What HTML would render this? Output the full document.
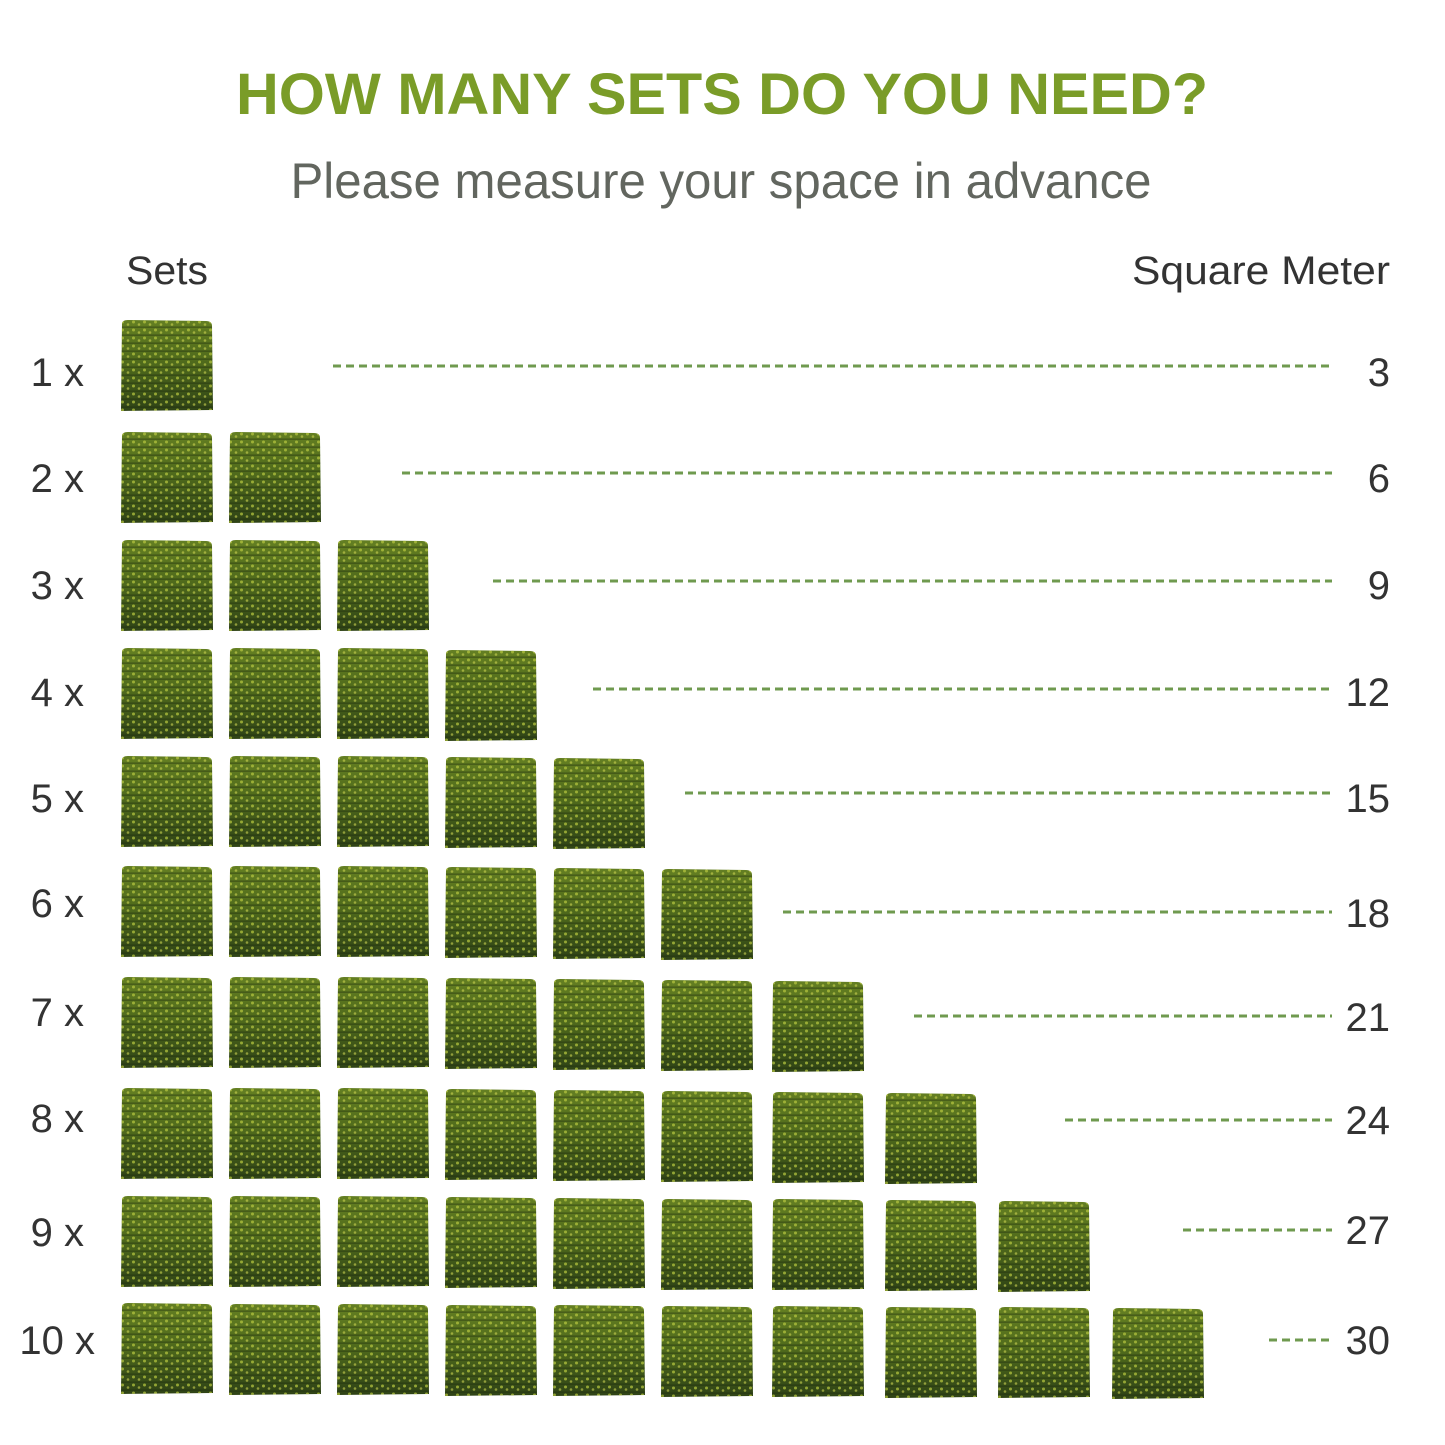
<!DOCTYPE html>
<html><head><meta charset="utf-8"><style>html,body{margin:0;padding:0;background:#fff}svg{display:block}</style></head>
<body>
<svg width="1445" height="1445" viewBox="0 0 1445 1445" xmlns="http://www.w3.org/2000/svg">
<defs>
<linearGradient id="g" x1="0" y1="0" x2="0" y2="1">
<stop offset="0" stop-color="#647f22"/><stop offset="0.45" stop-color="#506b1c"/><stop offset="1" stop-color="#2f4316"/>
</linearGradient>
<pattern id="p" width="11" height="8" patternUnits="userSpaceOnUse">
<circle cx="2.5" cy="2" r="1.5" fill="#b3c23e" opacity="0.75"/>
<circle cx="8" cy="4.5" r="1.3" fill="#cdd352" opacity="0.6"/>
<rect x="0" y="6.5" width="11" height="1.3" fill="#1c2a0e" opacity="0.45"/>
</pattern>
<g id="t">
<path d="M2 4 Q2 0 8 0 L86 1 Q92 1 92 6 L93 90 L1 91 Z" fill="url(#g)"/>
<path d="M2 4 Q2 0 8 0 L86 1 Q92 1 92 6 L93 90 L1 91 Z" fill="url(#p)"/>
</g>
</defs>
<text x="722" y="114" text-anchor="middle" font-family="Liberation Sans, sans-serif" font-weight="bold" font-size="58" fill="#7a9c28" textLength="972" lengthAdjust="spacingAndGlyphs">HOW MANY SETS DO YOU NEED?</text>
<text x="721" y="198" text-anchor="middle" font-family="Liberation Sans, sans-serif" font-size="50" fill="#62665f" textLength="861" lengthAdjust="spacingAndGlyphs">Please measure your space in advance</text>
<g font-family="Liberation Sans, sans-serif" font-size="40" fill="#333">
<text x="126" y="284" textLength="82" lengthAdjust="spacingAndGlyphs">Sets</text>
<text x="1390" y="284" text-anchor="end" textLength="258" lengthAdjust="spacingAndGlyphs">Square Meter</text>
</g>
<g font-family="Liberation Sans, sans-serif" font-size="40" fill="#333">
<text x="84" y="386" text-anchor="end">1 x</text>
<text x="84" y="492" text-anchor="end">2 x</text>
<text x="84" y="599" text-anchor="end">3 x</text>
<text x="84" y="706" text-anchor="end">4 x</text>
<text x="84" y="812" text-anchor="end">5 x</text>
<text x="84" y="917" text-anchor="end">6 x</text>
<text x="84" y="1026" text-anchor="end">7 x</text>
<text x="84" y="1132" text-anchor="end">8 x</text>
<text x="84" y="1246" text-anchor="end">9 x</text>
<text x="95" y="1354" text-anchor="end">10 x</text>
<g text-anchor="end">
<text x="1390" y="386">3</text>
<text x="1390" y="492">6</text>
<text x="1390" y="599">9</text>
<text x="1390" y="706">12</text>
<text x="1390" y="812">15</text>
<text x="1390" y="927">18</text>
<text x="1390" y="1031">21</text>
<text x="1390" y="1134">24</text>
<text x="1390" y="1244">27</text>
<text x="1390" y="1354">30</text>
</g>
</g>
<g stroke="#6f9a4f" stroke-width="3" stroke-dasharray="8 5">
<line x1="333" y1="366" x2="1332" y2="366"/>
<line x1="402" y1="473" x2="1332" y2="473"/>
<line x1="493" y1="581" x2="1332" y2="581"/>
<line x1="593" y1="689" x2="1332" y2="689"/>
<line x1="685" y1="793" x2="1332" y2="793"/>
<line x1="783" y1="912" x2="1332" y2="912"/>
<line x1="914" y1="1016" x2="1332" y2="1016"/>
<line x1="1065" y1="1120" x2="1332" y2="1120"/>
<line x1="1183" y1="1230" x2="1332" y2="1230"/>
<line x1="1269" y1="1340" x2="1332" y2="1340"/>
</g>
<g>
<use href="#t" x="120" y="320"/>
<use href="#t" x="120" y="432"/><use href="#t" x="228" y="432"/>
<use href="#t" x="120" y="540"/><use href="#t" x="228" y="540"/><use href="#t" x="336" y="540"/>
<use href="#t" x="120" y="648"/><use href="#t" x="228" y="648"/><use href="#t" x="336" y="648"/><use href="#t" x="444" y="650"/>
<use href="#t" x="120" y="756"/><use href="#t" x="228" y="756"/><use href="#t" x="336" y="756"/><use href="#t" x="444" y="757"/><use href="#t" x="552" y="758"/>
<use href="#t" x="120" y="866"/><use href="#t" x="228" y="866"/><use href="#t" x="336" y="866"/><use href="#t" x="444" y="867"/><use href="#t" x="552" y="868"/><use href="#t" x="660" y="869"/>
<use href="#t" x="120" y="977"/><use href="#t" x="228" y="977"/><use href="#t" x="336" y="977"/><use href="#t" x="444" y="978"/><use href="#t" x="552" y="979"/><use href="#t" x="660" y="980"/><use href="#t" x="771" y="981"/>
<use href="#t" x="120" y="1088"/><use href="#t" x="228" y="1088"/><use href="#t" x="336" y="1088"/><use href="#t" x="444" y="1089"/><use href="#t" x="552" y="1090"/><use href="#t" x="660" y="1091"/><use href="#t" x="771" y="1092"/><use href="#t" x="884" y="1093"/>
<use href="#t" x="120" y="1196"/><use href="#t" x="228" y="1196"/><use href="#t" x="336" y="1196"/><use href="#t" x="444" y="1197"/><use href="#t" x="552" y="1198"/><use href="#t" x="660" y="1199"/><use href="#t" x="771" y="1199"/><use href="#t" x="884" y="1200"/><use href="#t" x="997" y="1201"/>
<use href="#t" x="120" y="1303"/><use href="#t" x="228" y="1304"/><use href="#t" x="336" y="1304"/><use href="#t" x="444" y="1305"/><use href="#t" x="552" y="1305"/><use href="#t" x="660" y="1306"/><use href="#t" x="771" y="1306"/><use href="#t" x="884" y="1307"/><use href="#t" x="997" y="1307"/><use href="#t" x="1111" y="1308"/>
</g>
</svg>
</body></html>
